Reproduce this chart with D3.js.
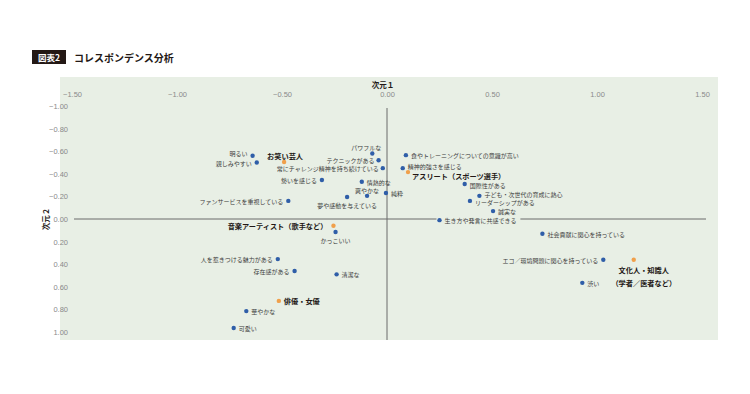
<!DOCTYPE html>
<html>
<head>
<meta charset="utf-8">
<script src="https://cdn.jsdelivr.net/npm/d3@7"></script>
<style>
  body { margin: 0; background: #fff; }
  svg { display: block; font-family: "Noto Sans CJK JP", "Noto Sans", sans-serif; }
</style>
</head>
<body>
<svg class="chart" width="750" height="394"></svg>
<script>
// attribute points (blue)
var attrNames = ['明るい', '親しみやすい', 'パワフルな', 'テクニックがある', '常にチャレンジ精神を持ち続けている',
  '勢いを感じる', '情熱的な', '爽やかな', '純粋', '夢や感動を与えている', 'ファンサービスを重視している',
  '食やトレーニングについての意識が高い', '精神的強さを感じる', '国際性がある', '子ども・次世代の育成に熱心',
  'リーダーシップがある', '誠実な', '生き方や発言に共感できる', '社会貢献に関心を持っている',
  'エコ／環境問題に関心を持っている', '渋い', 'かっこいい', '人を惹きつける魅力がある', '存在感がある',
  '清潔な', '華やかな', '可愛い'];
var attrDim1 = [-0.64, -0.62, -0.07, -0.04, -0.02, -0.31, -0.12, -0.095, -0.005, -0.19, -0.47,
  0.09, 0.075, 0.37, 0.44, 0.395, 0.505, 0.25, 0.74, 1.03, 0.93, -0.245, -0.52, -0.44, -0.24, -0.67, -0.73];
var attrDim2 = [-0.56, -0.50, -0.58, -0.52, -0.45, -0.345, -0.33, -0.205, -0.23, -0.195, -0.16,
  -0.565, -0.45, -0.31, -0.205, -0.16, -0.07, 0.01, 0.13, 0.36, 0.565, 0.115, 0.355, 0.46, 0.49, 0.815, 0.965];

// occupation points (orange)
var jobNames = ['お笑い芸人', 'アスリート（スポーツ選手）', '音楽アーティスト（歌手など）', '文化人・知識人\n（学者／医者など）', '俳優・女優'];
var jobDim1 = [-0.49, 0.10, -0.255, 1.175, -0.515];
var jobDim2 = [-0.505, -0.415, 0.06, 0.36, 0.725];

var xTicks = [-1.5, -1, -0.5, 0, 0.5, 1, 1.5];
var yTicks = [-1, -0.8, -0.6, -0.4, -0.2, 0, 0.2, 0.4, 0.6, 0.8, 1];

// where each label sits relative to its dot: [anchor, dx, dy]
var labelPos = {
  '明るい': ['end', -5, -3], 'パワフルな': ['end', 9, -6], 'テクニックがある': ['end', -4, 0],
  '常にチャレンジ精神を持ち続けている': ['end', -4, 0], '爽やかな': ['middle', 0, -6],
  '夢や感動を与えている': ['middle', 0, 8], 'かっこいい': ['middle', 0, 8],
  '精神的強さを感じる': ['start', 5, -2], 'アスリート（スポーツ選手）': ['start', 4, 3.5],
  '国際性がある': ['start', 5, 1], '子ども・次世代の育成に熱心': ['start', 5, -1.5], 'リーダーシップがある': ['start', 5, 1.5],
  'お笑い芸人': ['middle', 1, -6], '音楽アーティスト（歌手など）': ['end', -6, 0],
  '文化人・知識人\n（学者／医者など）': ['middle', 10, 10]
};
['親しみやすい', '勢いを感じる', 'ファンサービスを重視している', 'エコ／環境問題に関心を持っている',
 '人を惹きつける魅力がある', '存在感がある'].forEach(function(n) { labelPos[n] = ['end', -5, 0]; });

var svg = d3.select('.chart');

// title
svg.append('rect').attr('x', 32).attr('y', 50).attr('width', 34).attr('height', 14).attr('fill', '#231815');
svg.append('text').attr('x', 49).attr('y', 57).attr('text-anchor', 'middle').attr('dominant-baseline', 'central')
  .attr('fill', '#fff').attr('font-size', 8.5).attr('font-weight', 'bold').text('図表2');
svg.append('text').attr('x', 74).attr('y', 57).attr('dominant-baseline', 'central')
  .attr('fill', '#231815').attr('font-size', 10).attr('font-weight', 'bold').text('コレスポンデンス分析');

// panel
svg.append('rect').attr('x', 60).attr('y', 77).attr('width', 658).attr('height', 263).attr('fill', '#e8efe5');

var x = d3.scaleLinear().domain([-1.5, 1.5]).range([72, 702]);
var y = d3.scaleLinear().domain([-1, 1]).range([106, 332]);

var xAxis = svg.append('g').attr('transform', 'translate(0,100)')
  .call(d3.axisTop(x).tickValues(xTicks).tickSize(0).tickFormat(d3.format('.2f')));
var yAxis = svg.append('g').attr('transform', 'translate(68,0)')
  .call(d3.axisLeft(y).tickValues(yTicks).tickSize(0).tickFormat(d3.format('.2f')));
[xAxis, yAxis].forEach(function(a) {
  a.select('.domain').remove();
  a.selectAll('text').attr('fill', '#8a8a8a').attr('font-size', 7.5)
    .attr('font-family', '"Helvetica Neue", "Liberation Sans", Arial, sans-serif');
});
xAxis.selectAll('text').attr('dy', 0);
yAxis.selectAll('text').attr('x', 0).attr('dy', '0.32em');

// zero lines
svg.append('line').attr('x1', 74).attr('x2', 706).attr('y1', y(0)).attr('y2', y(0))
  .attr('stroke', '#6b6b6b').attr('stroke-width', 1);
svg.append('line').attr('x1', x(0)).attr('x2', x(0)).attr('y1', 108).attr('y2', 340)
  .attr('stroke', '#6b6b6b').attr('stroke-width', 1);

// axis titles
svg.append('text').attr('x', x(0) - 4).attr('y', 84).attr('text-anchor', 'middle').attr('dominant-baseline', 'central')
  .attr('font-size', 7.5).attr('font-weight', 'bold').attr('fill', '#231815').text('次元１');
svg.append('text').attr('transform', 'translate(45,' + y(0) + ') rotate(-90)').attr('text-anchor', 'middle')
  .attr('dominant-baseline', 'central').attr('font-size', 7.5).attr('font-weight', 'bold').attr('fill', '#231815').text('次元２');

var attrs = attrNames.map(function(n, i) { return {name: n, d1: attrDim1[i], d2: attrDim2[i], job: false}; });
var jobs = jobNames.map(function(n, i) { return {name: n, d1: jobDim1[i], d2: jobDim2[i], job: true}; });
var all = attrs.concat(jobs);

var labels = svg.append('g');
all.forEach(function(d) {
  var p = labelPos[d.name] || ['start', 5, 0];
  var t = labels.append('text')
    .attr('x', x(d.d1) + p[1])
    .attr('y', y(d.d2) + p[2])
    .attr('text-anchor', p[0])
    .attr('dominant-baseline', 'central')
    .attr('font-size', d.job ? 7.2 : 6)
    .attr('font-weight', d.job ? 'bold' : 'normal')
    .attr('fill', d.job ? '#231815' : '#3c3c3c');
  var lines = d.name.split('\n');
  lines.forEach(function(s, i) {
    t.append('tspan').attr('x', x(d.d1) + p[1]).attr('dy', i === 0 ? 0 : 13).text(s);
  });
  // label sitting on the zero line gets a panel-coloured backing
  if (Math.abs(d.d2) < 0.03) {
    var b = t.node().getBBox();
    labels.insert('rect', 'text').attr('x', b.x - 8).attr('y', b.y).attr('width', b.width + 12).attr('height', b.height)
      .attr('fill', '#e8efe5');
  }
});

svg.append('g').selectAll('circle')
  .data(all)
  .enter()
  .append('circle')
  .attr('cx', function(d) { return x(d.d1); })
  .attr('cy', function(d) { return y(d.d2); })
  .attr('r', 2.2)
  .attr('fill', function(d) { return d.job ? '#f0a04b' : '#2f5ea8'; });
</script>
</body>
</html>
